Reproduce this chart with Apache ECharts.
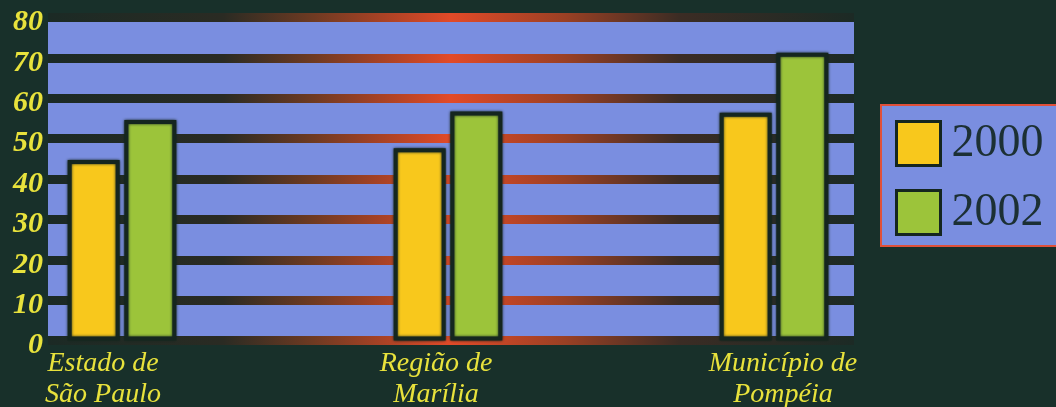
<!DOCTYPE html>
<html>
<head>
<meta charset="utf-8">
<script src="https://cdn.jsdelivr.net/npm/echarts@6/dist/echarts.min.js"></script>
<style>
html,body{margin:0;padding:0;background:#18302a;}
#chart{width:1056px;height:407px;}
</style>
</head>
<body>
<div id="chart"></div>
<script>
var categories = ['Estado de\nSão Paulo', 'Região de\nMarília', 'Município de\nPompéia'];
var seriesNames = ['2000', '2002'];
var values2000 = [44.7, 47.6, 56.4];
var values2002 = [54.6, 56.7, 71.3];
var yTicks = {min: 0, max: 80, interval: 10};

var BG = '#18302a';
var BLUE = '#7a8ee0';
var DARK = '#15261f';
var YELLOW_TXT = '#e8e23c';
var labelShift = [-19, -12, 9];

var stripeGradient = {
  type: 'linear', x: 0, y: 0, x2: 1, y2: 0,
  colorStops: [
    {offset: 0, color: '#1b2a25'},
    {offset: 0.22, color: '#2a2b23'},
    {offset: 0.33, color: '#6e3a22'},
    {offset: 0.5, color: '#e24a28'},
    {offset: 0.64, color: '#9a4024'},
    {offset: 0.78, color: '#3b2c24'},
    {offset: 1, color: '#1b2a25'}
  ]
};

var xData = categories.map(function (c, i) {
  var s = labelShift[i];
  return {
    value: c,
    textStyle: {padding: s < 0 ? [0, -2 * s, 0, 0] : [0, 0, 0, 2 * s]}
  };
});

var chart = echarts.init(document.getElementById('chart'), null, {renderer: 'canvas'});
chart.setOption({
  backgroundColor: BG,
  animation: false,
  grid: [
    {left: 48, right: 202, top: 17.5, bottom: 66.5, outerBoundsMode: 'none', containLabel: false},
    {left: 122, right: 282, top: 17.5, bottom: 66.5, outerBoundsMode: 'none', containLabel: false}
  ],
  legend: {
    orient: 'vertical',
    left: 881, top: 105,
    padding: [15, 30, 10, 14],
    itemWidth: 44, itemHeight: 44, itemGap: 22,
    backgroundColor: BLUE,
    borderColor: '#e0503a', borderWidth: 2,
    icon: 'rect',
    itemStyle: {borderColor: DARK, borderWidth: 3},
    textStyle: {fontFamily: 'Liberation Serif', fontSize: 46, color: '#1c3034', padding: [0, 0, 0, 6]},
    data: seriesNames
  },
  xAxis: [
    {type: 'value', gridIndex: 0, show: false, min: 0, max: 1},
    {
      type: 'category', gridIndex: 1, data: xData, boundaryGap: false,
      axisLine: {show: false}, axisTick: {show: false}, splitLine: {show: false},
      axisLabel: {
        color: YELLOW_TXT, fontFamily: 'Liberation Serif', fontStyle: 'italic',
        fontSize: 28, lineHeight: 31, margin: 8, interval: 0
      }
    }
  ],
  yAxis: [
    {
      type: 'value', gridIndex: 0, min: yTicks.min, max: yTicks.max, interval: yTicks.interval,
      axisLine: {show: false}, axisTick: {show: false},
      axisLabel: {
        margin: 5,
        formatter: function (v) { return '{t|' + v + '}'; },
        rich: {
          t: {
            color: YELLOW_TXT, fontFamily: 'Liberation Serif', fontStyle: 'italic', fontWeight: 'bold',
            fontSize: 30, padding: [10, 0, 0, 0]
          }
        }
      },
      splitLine: {show: true, lineStyle: {width: 9, color: stripeGradient}},
      splitArea: {show: true, areaStyle: {color: [BLUE, BLUE]}}
    },
    {
      type: 'value', gridIndex: 1, min: yTicks.min, max: yTicks.max, interval: yTicks.interval,
      show: false, splitLine: {show: false}
    }
  ],
  series: [
    {
      name: seriesNames[0], type: 'bar', xAxisIndex: 1, yAxisIndex: 1, clip: false,
      data: values2000, barWidth: 52, barGap: '9%',
      itemStyle: {color: '#f8c81c', borderColor: DARK, borderWidth: 4, shadowBlur: 3, shadowColor: DARK}
    },
    {
      name: seriesNames[1], type: 'bar', xAxisIndex: 1, yAxisIndex: 1, clip: false,
      data: values2002, barWidth: 52, barGap: '9%',
      itemStyle: {color: '#9cc43a', borderColor: DARK, borderWidth: 4, shadowBlur: 3, shadowColor: DARK}
    }
  ]
});
</script>
</body>
</html>
